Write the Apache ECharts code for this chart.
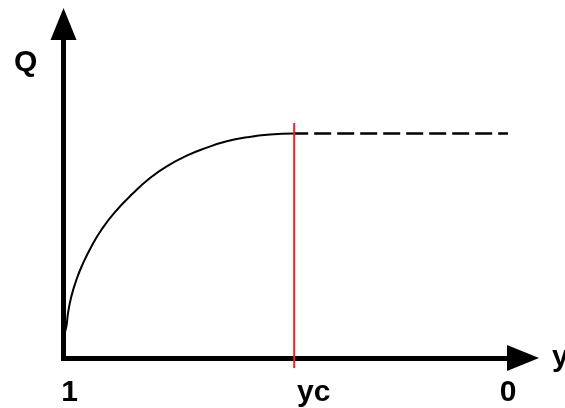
<!DOCTYPE html>
<html>
<head>
<meta charset="utf-8">
<script src="https://cdn.jsdelivr.net/npm/echarts@6/dist/echarts.min.js"></script>
<style>
  html, body { margin: 0; padding: 0; background: #fff; }
  #container { width: 565px; height: 408px; }
</style>
</head>
<body>
<div id="container"></div>
<script>
var dom = document.getElementById("container");
var myChart = echarts.init(dom);

// x axis runs from y = 1 (left) down to y = 0 (right)
var ycValue = 0.481;
var curveY = [1, 0.9937, 0.9899, 0.9825, 0.9712, 0.9561, 0.9375, 0.915, 0.8848, 0.843, 0.8054, 0.7678, 0.7228, 0.6778, 0.6328, 0.5878, 0.5354, 0.481];
var curveQ = [0.098, 0.1394, 0.1991, 0.2731, 0.3474, 0.4218, 0.4958, 0.5702, 0.649, 0.735, 0.8018, 0.8539, 0.9016, 0.9372, 0.9653, 0.9831, 0.9955, 1];
var plateauY = [ycValue, 0];
var plateauQ = [1, 1];
var ycLineQ = [-0.045, 1.047];
var xTickValues = [1, ycValue, 0];
var xTickLabels = ["1", "yc", "0"];

var curveData = curveY.map(function (y, i) {
  return [y, curveQ[i]];
});
var plateauData = plateauY.map(function (y, i) {
  return [y, plateauQ[i]];
});
var ycLineData = ycLineQ.map(function (q) {
  return [ycValue, q];
});

var font = "Liberation Sans";

var option = {
  animation: false,
  title: {
    text: "Q",
    left: 14,
    top: 48,
    padding: 0,
    textStyle: { fontFamily: font, fontSize: 30, fontWeight: "bold", color: "#000" },
  },
  grid: {
    left: 63.5,
    right: 42,
    top: 24,
    bottom: 50,
    containLabel: false,
    outerBoundsMode: "none",
  },
  xAxis: {
    type: "value",
    inverse: true,
    min: -0.0337,
    max: 1,
    name: "y",
    nameLocation: "start",
    nameGap: 29,
    nameTextStyle: {
      fontFamily: font,
      fontSize: 30,
      fontWeight: "bold",
      color: "#000",
      padding: [4, 0, 0, 0],
    },
    axisLine: {
      show: true,
      onZero: false,
      symbol: ["none", "triangle"],
      symbolSize: [26, 32],
      lineStyle: { color: "#000", width: 5, cap: "square" },
    },
    axisTick: { show: false },
    splitLine: { show: false },
    axisLabel: {
      customValues: xTickValues,
      margin: 20,
      color: "#000",
      fontFamily: font,
      fontSize: 30,
      fontWeight: "bold",
      formatter: function (v) {
        var i = xTickValues.indexOf(v);
        var t = i >= 0 ? xTickLabels[i] : "";
        if (t === "1") return "{a|1}";
        if (t === "yc") return "{b|yc}";
        return t;
      },
      rich: {
        a: { fontFamily: font, fontSize: 30, fontWeight: "bold", color: "#000", padding: [0, 0, 0, 12] },
        b: { fontFamily: font, fontSize: 30, fontWeight: "bold", color: "#000", padding: [0, 0, 0, 39] },
      },
    },
  },
  yAxis: {
    type: "value",
    min: 0,
    max: 1.488,
    axisLine: {
      show: true,
      onZero: false,
      symbol: ["none", "triangle"],
      symbolSize: [26, 32],
      lineStyle: { color: "#000", width: 5, cap: "square" },
    },
    axisTick: { show: false },
    axisLabel: { show: false },
    splitLine: { show: false },
  },
  series: [
    {
      type: "line",
      data: curveData,
      smooth: 0.5,
      symbol: "none",
      clip: false,
      lineStyle: { color: "#000", width: 2 },
      z: 3,
    },
    {
      type: "line",
      data: plateauData,
      symbol: "none",
      clip: false,
      lineStyle: { color: "#000", width: 2.5, type: [17, 6], dashOffset: 3 },
      z: 3,
    },
    {
      type: "line",
      data: ycLineData,
      symbol: "none",
      clip: false,
      lineStyle: { color: "#f0202a", width: 2 },
      z: 4,
    },
  ],
};

myChart.setOption(option);
</script>
</body>
</html>
